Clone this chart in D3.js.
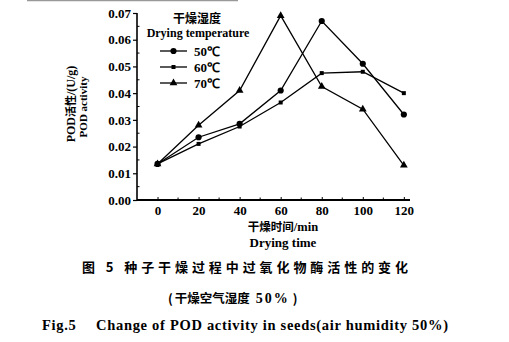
<!DOCTYPE html>
<html><head><meta charset="utf-8">
<script src="https://cdn.jsdelivr.net/npm/d3@7/dist/d3.min.js"></script>
<style>
html,body{margin:0;padding:0;background:#fff;}
svg{display:block;}
.en{font-family:"Liberation Serif","Times New Roman",Times,serif;font-weight:bold;}
.cn{font-family:"Noto Sans CJK SC",sans-serif;font-weight:bold;}
</style></head>
<body><svg id="c" width="509" height="342"></svg>
<script>
const times = [0, 20, 40, 60, 80, 100, 120];
const seriesNames = ["50℃", "60℃", "70℃"];
const pod50 = [0.0135, 0.0235, 0.0285, 0.041, 0.067, 0.051, 0.032];
const pod60 = [0.0135, 0.021, 0.0275, 0.0365, 0.0475, 0.048, 0.040];
const pod70 = [0.0135, 0.028, 0.041, 0.069, 0.0425, 0.034, 0.013];
const yTicks = [0, 0.01, 0.02, 0.03, 0.04, 0.05, 0.06, 0.07];
const xTicks = [0, 20, 40, 60, 80, 100, 120];

const svg = d3.select("#c");
svg.append("line").attr("x1",27).attr("x2",238).attr("y1",0.5).attr("y2",0.5)
  .attr("stroke","#999").attr("stroke-width",1.5);

const x = d3.scaleLinear().domain([-10, 123]).range([137, 410]);
const y = d3.scaleLinear().domain([0, 0.07]).range([200, 13]);

const g = svg.append("g");
const ya = g.append("g").attr("transform","translate(137,0)")
  .call(d3.axisLeft(y).tickValues(yTicks).tickFormat(d3.format(".2f")).tickSize(4).tickPadding(2));
ya.attr("font-family",null);
ya.select(".domain").attr("stroke","#000").attr("stroke-width",1.6).attr("d","M0,"+y(0.07)+"V"+y(0));
ya.selectAll("text").attr("class","en").style("font-size","13px").attr("fill","#000");
ya.selectAll("line").attr("stroke-width",1.2);
g.append("g").selectAll("line").data(d3.range(0.005,0.07,0.01)).join("line")
  .attr("x1",137).attr("x2",139.5).attr("y1",d=>y(d)).attr("y2",d=>y(d)).attr("stroke","#000");

const xa = g.append("g").attr("transform","translate(0,200)")
  .call(d3.axisBottom(x).tickValues(xTicks).tickSize(-3).tickPadding(6));
xa.attr("font-family",null);
xa.select(".domain").attr("stroke","#000").attr("stroke-width",1.8).attr("d","M137,0H410");
xa.selectAll("text").attr("class","en").style("font-size","13px").attr("fill","#000");
g.append("g").selectAll("line").data(d3.range(10,121,20)).join("line")
  .attr("x1",d=>x(d)).attr("x2",d=>x(d)).attr("y1",200).attr("y2",197.5).attr("stroke","#000");

const line = d3.line().x((d,i)=>x(times[i])).y(d=>y(d));
const all = [pod50, pod60, pod70];
all.forEach(s=>{
  g.append("path").datum(s).attr("d",line).attr("fill","none").attr("stroke","#000").attr("stroke-width",1.3);
});
const sym = [d3.symbolCircle, d3.symbolSquare, d3.symbolTriangle];
const sz = [30, 16, 26];
all.forEach((s,k)=>{
  g.append("g").selectAll("path").data(s).join("path")
    .attr("d", d3.symbol().type(sym[k]).size(sz[k]))
    .attr("transform",(d,i)=>`translate(${x(times[i])},${y(d)})`).attr("fill","#000");
});

// legend
svg.append("text").attr("class","cn").attr("x",197).attr("y",23).attr("text-anchor","middle")
  .style("font-size","12px").text("干燥湿度");
svg.append("text").attr("class","en").attr("x",198).attr("y",37).attr("text-anchor","middle")
  .style("font-size","12px").text("Drying temperature");
seriesNames.forEach((n,k)=>{
  const yy = 51 + k*16;
  svg.append("line").attr("x1",160).attr("x2",187).attr("y1",yy).attr("y2",yy).attr("stroke","#000").attr("stroke-width",1.3);
  svg.append("path").attr("d", d3.symbol().type(sym[k]).size(sz[k])).attr("transform",`translate(173.5,${yy})`);
  svg.append("text").attr("class","en").attr("x",194).attr("y",yy+4.5).style("font-size","13px").text(n);
});

// y title
svg.append("text").attr("class","en").attr("transform","translate(75,104) rotate(-90)")
  .attr("text-anchor","middle").style("font-size","12px")
  .html('POD<tspan class="cn" style="font-size:11px">活性</tspan>/(U/g)');
svg.append("text").attr("class","en").attr("transform","translate(87,107) rotate(-90)")
  .attr("text-anchor","middle").style("font-size","11px").text("POD activity");

// x title
svg.append("text").attr("class","cn").attr("x",283).attr("y",231).attr("text-anchor","middle")
  .style("font-size","11.5px").html('干燥时间<tspan class="en" style="font-size:12.5px">/min</tspan>');
svg.append("text").attr("class","en").attr("x",283).attr("y",247).attr("text-anchor","middle")
  .style("font-size","13px").text("Drying time");

// captions
svg.append("text").attr("class","cn").attr("x",82).attr("y",272)
  .style("font-size","13px").attr("textLength",326).attr("lengthAdjust","spacing")
  .text("图 5   种子干燥过程中过氧化物酶活性的变化");
svg.append("text").attr("class","cn").attr("x",168).attr("y",303)
  .style("font-size","12.5px")
  .html('(<tspan dx="2">干燥空气湿度</tspan><tspan class="en" dx="6" style="font-size:14px;letter-spacing:2px">50%</tspan><tspan dx="3">)</tspan>');
svg.append("text").attr("class","en").attr("x",42).attr("y",330)
  .style("font-size","14.5px").attr("textLength",406).attr("lengthAdjust","spacing")
  .text("Fig.5\u2003 Change of POD activity in seeds(air humidity 50%)");
</script></body></html>
